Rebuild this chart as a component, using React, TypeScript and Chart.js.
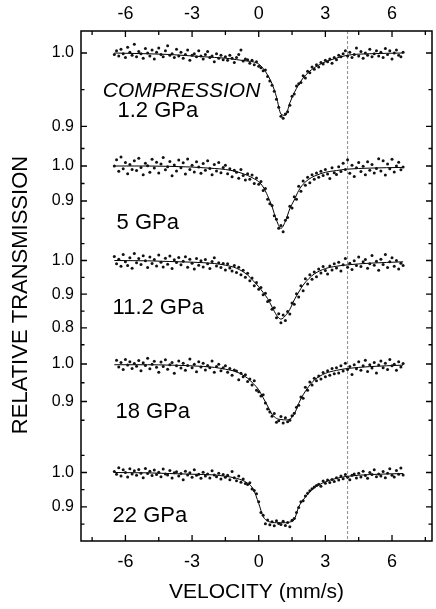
import React, { useEffect, useRef } from 'react';
import { Chart, registerables } from 'chart.js';

Chart.register(...registerables);

// ---------- data ----------
const VELOCITY = [
  -6.5, -6.4, -6.3, -6.2, -6.1, -6.0, -5.9, -5.8, -5.7, -5.6,
  -5.5, -5.4, -5.3, -5.2, -5.1, -5.0, -4.9, -4.8, -4.7, -4.6,
  -4.5, -4.4, -4.3, -4.2, -4.1, -4.0, -3.9, -3.8, -3.7, -3.6,
  -3.5, -3.4, -3.3, -3.2, -3.1, -3.0, -2.9, -2.8, -2.7, -2.6,
  -2.5, -2.4, -2.3, -2.2, -2.1, -2.0, -1.9, -1.8, -1.7, -1.6,
  -1.5, -1.4, -1.3, -1.2, -1.1, -1.0, -0.9, -0.8, -0.7, -0.6,
  -0.5, -0.4, -0.3, -0.2, -0.1, 0.0, 0.1, 0.2, 0.3, 0.4,
  0.5, 0.6, 0.7, 0.8, 0.9, 1.0, 1.1, 1.2, 1.3, 1.4,
  1.5, 1.6, 1.7, 1.8, 1.9, 2.0, 2.1, 2.2, 2.3, 2.4,
  2.5, 2.6, 2.7, 2.8, 2.9, 3.0, 3.1, 3.2, 3.3, 3.4,
  3.5, 3.6, 3.7, 3.8, 3.9, 4.0, 4.1, 4.2, 4.3, 4.4,
  4.5, 4.6, 4.7, 4.8, 4.9, 5.0, 5.1, 5.2, 5.3, 5.4,
  5.5, 5.6, 5.7, 5.8, 5.9, 6.0, 6.1, 6.2, 6.3, 6.4, 6.5,
];

const T_1_2_GPA = [
  0.998, 1.003, 0.996, 1.005, 0.999, 0.994, 1.008, 1.001, 0.997, 1.012,
  0.995, 1.002, 0.999, 0.993, 1.006, 1.000, 0.996, 1.004, 0.992, 1.001,
  1.007, 0.998, 0.995, 1.003, 1.010, 0.997, 0.999, 0.994, 1.005, 0.996,
  1.001, 0.993, 0.998, 1.004, 0.990, 0.997, 0.999, 0.995, 1.003, 0.996,
  0.992, 0.998, 1.002, 0.994, 0.996, 0.988, 0.999, 0.993, 0.997, 0.991,
  0.995, 0.990, 0.997, 0.993, 0.987, 0.994, 0.998, 1.004, 0.989, 0.992,
  0.991, 0.986, 0.990, 0.984, 0.988, 0.982, 0.980, 0.976, 0.977, 0.968,
  0.962, 0.956, 0.948, 0.937, 0.926, 0.914, 0.911, 0.917, 0.920, 0.929,
  0.941, 0.944, 0.955, 0.958, 0.960, 0.969, 0.966, 0.975, 0.973, 0.981,
  0.978, 0.984, 0.981, 0.987, 0.985, 0.990, 0.988, 0.992, 0.986, 0.994,
  0.991, 0.997, 0.995, 0.999, 1.003, 0.996, 1.001, 0.994, 0.998, 1.007,
  0.996, 1.002, 0.993, 1.000, 0.997, 1.005, 0.995, 0.999, 1.003, 0.996,
  1.001, 0.994, 1.006, 0.998, 1.003, 0.992, 1.000, 1.004, 0.997, 0.995, 1.001,
];

const T_5_GPA = [
  1.000, 1.018, 0.985, 1.026, 0.992, 1.010, 0.978, 1.004, 0.990, 1.015,
  0.987, 1.022, 0.996, 0.975, 1.008, 1.001, 0.982, 1.019, 0.994, 1.011,
  0.980, 1.006, 1.024, 0.989, 0.998, 1.013, 0.972, 1.003, 0.986, 1.017,
  0.995, 1.009, 0.977, 1.020, 0.990, 1.002, 0.983, 1.012, 0.997, 0.979,
  1.007, 0.988, 1.015, 0.993, 0.975, 1.004, 0.986, 1.010, 0.981, 0.996,
  1.002, 0.978, 0.992, 0.969, 0.988, 0.982, 0.965, 0.990, 0.973, 0.960,
  0.978, 0.962, 0.974, 0.950, 0.966, 0.948, 0.956, 0.930, 0.936, 0.905,
  0.892, 0.887, 0.858, 0.848, 0.822, 0.830, 0.812, 0.845, 0.853, 0.885,
  0.880, 0.912, 0.905, 0.942, 0.928, 0.957, 0.945, 0.968, 0.952, 0.975,
  0.962, 0.980, 0.968, 0.985, 0.973, 0.990, 0.977, 0.964, 0.995, 0.981,
  0.976, 0.998, 0.984, 1.008, 0.990, 1.018, 0.979, 1.002, 0.970, 0.995,
  1.010, 0.984, 0.999, 0.975, 1.012, 0.988, 1.004, 0.980, 0.993, 1.021,
  0.986, 1.015, 0.974, 1.006, 0.992, 1.019, 0.983, 1.000, 1.011, 0.989, 0.997,
];

const T_11_2_GPA = [
  1.012, 0.990, 1.004, 0.983, 1.018, 0.996, 0.985, 1.008, 0.977, 1.021,
  0.993, 1.006, 0.988, 1.014, 0.999, 0.979, 1.010, 0.991, 1.003, 0.984,
  1.016, 0.995, 0.981, 1.007, 0.989, 1.013, 0.976, 1.002, 0.994, 1.009,
  0.987, 0.998, 1.011, 0.980, 1.004, 0.992, 0.975, 1.006, 0.986, 0.999,
  0.981, 1.003, 0.990, 0.976, 0.997, 1.008, 0.984, 0.993, 0.979, 0.991,
  0.972, 0.990, 0.978, 0.969, 0.985, 0.964, 0.980, 0.958, 0.971, 0.950,
  0.962, 0.940, 0.948, 0.925, 0.935, 0.915, 0.920, 0.898, 0.903, 0.878,
  0.882, 0.855, 0.860, 0.830, 0.842, 0.815, 0.838, 0.822, 0.849, 0.841,
  0.874, 0.870, 0.901, 0.892, 0.925, 0.910, 0.946, 0.930, 0.958, 0.944,
  0.966, 0.952, 0.975, 0.963, 0.982, 0.970, 0.960, 0.984, 0.972, 0.990,
  0.978, 0.995, 0.969, 0.987, 1.006, 0.980, 0.992, 0.973, 0.999, 0.985,
  1.010, 0.982, 0.996, 1.003, 0.977, 0.990, 1.015, 0.986, 0.998, 0.971,
  1.004, 0.988, 1.018, 0.979, 0.996, 1.008, 0.983, 1.000, 0.975, 0.992, 0.985,
];

const T_18_GPA = [
  1.045, 1.010, 0.992, 1.004, 0.985, 1.012, 0.997, 1.006, 0.988, 1.001,
  0.994, 1.009, 0.982, 1.003, 0.996, 1.015, 0.987, 0.999, 1.007, 0.991,
  0.978, 1.005, 0.993, 1.011, 0.986, 0.998, 1.004, 0.975, 0.995, 1.008,
  0.989, 1.002, 0.983, 0.996, 1.013, 0.990, 0.999, 0.979, 1.006, 0.992,
  1.002, 0.984, 0.996, 0.990, 1.008, 0.978, 0.993, 0.999, 0.982, 0.990,
  0.995, 0.978, 0.988, 0.970, 0.984, 0.981, 0.958, 0.975, 0.966, 0.971,
  0.953, 0.960, 0.944, 0.955, 0.930, 0.926, 0.915, 0.918, 0.896, 0.880,
  0.872, 0.861, 0.868, 0.845, 0.849, 0.860, 0.843, 0.857, 0.846, 0.850,
  0.862, 0.869, 0.885, 0.890, 0.912, 0.909, 0.938, 0.930, 0.952, 0.944,
  0.962, 0.955, 0.968, 0.960, 0.977, 0.966, 0.982, 0.970, 0.988, 0.974,
  0.990, 0.976, 0.995, 0.981, 1.002, 0.985, 0.993, 0.972, 0.998, 0.987,
  1.006, 0.983, 0.995, 1.010, 0.980, 0.998, 0.989, 1.004, 0.976, 0.997,
  1.008, 0.990, 1.002, 0.985, 1.012, 0.995, 0.999, 0.983, 1.006, 0.992, 1.001,
];

const T_22_GPA = [
  1.003, 0.995, 1.014, 0.990, 1.008, 1.000, 0.987, 1.011, 0.996, 1.005,
  0.992, 1.009, 0.998, 0.985, 1.012, 0.997, 1.004, 0.991, 1.007, 0.994,
  1.001, 0.988, 1.010, 0.996, 0.993, 1.006, 0.984, 0.999, 1.002, 0.990,
  0.997, 0.979, 1.004, 0.993, 0.999, 0.986, 1.008, 0.992, 0.995, 0.983,
  1.001, 0.990, 0.996, 0.984, 1.005, 0.993, 0.988, 0.998, 0.981, 0.994,
  0.986, 0.992, 0.979, 1.003, 0.985, 0.976, 0.990, 0.972, 0.981, 0.968,
  0.965, 0.970, 0.952, 0.948, 0.938, 0.915, 0.884, 0.876, 0.851, 0.862,
  0.848, 0.857, 0.845, 0.860, 0.852, 0.849, 0.858, 0.846, 0.855, 0.842,
  0.861, 0.866, 0.884, 0.898, 0.915, 0.918, 0.932, 0.940, 0.947, 0.953,
  0.958, 0.962, 0.966, 0.960, 0.975, 0.969, 0.978, 0.971, 0.980, 0.974,
  0.985, 0.978, 0.990, 0.982, 0.994, 0.986, 0.979, 0.992, 0.996, 0.984,
  0.998, 0.987, 1.004, 0.991, 0.983, 1.000, 0.994, 1.008, 0.988, 0.996,
  0.990, 1.003, 0.985, 0.998, 1.011, 0.992, 0.987, 1.006, 0.995, 1.013, 0.993,
];

// fitted curves
const FIT_VELOCITY = [-6.5, -5, -4, -3, -2, -1.5, -1, -0.5, -0.25, 0, 0.2, 0.4, 0.6, 0.8, 1.0, 1.2, 1.4, 1.6, 1.8, 2.0, 2.25, 2.5, 3, 3.5, 4, 5, 6.5];
const FIT_1_2_GPA = [1.000, 0.999, 0.998, 0.996, 0.994, 0.993, 0.991, 0.989, 0.988, 0.985, 0.979, 0.970, 0.958, 0.940, 0.917, 0.915, 0.932, 0.946, 0.957, 0.966, 0.974, 0.980, 0.988, 0.993, 0.997, 0.999, 1.000];
const FIT_5_GPA = [1.000, 1.000, 0.999, 0.997, 0.993, 0.990, 0.984, 0.973, 0.965, 0.955, 0.940, 0.915, 0.884, 0.845, 0.822, 0.842, 0.878, 0.903, 0.930, 0.948, 0.962, 0.971, 0.982, 0.987, 0.991, 0.994, 0.996];
const FIT_11_2_GPA = [1.000, 0.999, 0.997, 0.995, 0.991, 0.986, 0.977, 0.957, 0.940, 0.922, 0.905, 0.887, 0.862, 0.838, 0.826, 0.836, 0.855, 0.883, 0.906, 0.927, 0.946, 0.960, 0.976, 0.983, 0.987, 0.992, 0.996];
const FIT_18_GPA = [0.998, 0.998, 0.997, 0.995, 0.991, 0.986, 0.979, 0.962, 0.948, 0.931, 0.910, 0.888, 0.866, 0.855, 0.852, 0.851, 0.853, 0.866, 0.895, 0.918, 0.940, 0.957, 0.975, 0.983, 0.988, 0.993, 0.997];
const FIT_22_GPA = [1.000, 0.999, 0.997, 0.995, 0.993, 0.989, 0.983, 0.969, 0.952, 0.910, 0.872, 0.859, 0.855, 0.854, 0.854, 0.854, 0.856, 0.863, 0.900, 0.920, 0.940, 0.955, 0.973, 0.983, 0.989, 0.994, 0.997];

const PRESSURE_LABELS = ['1.2 GPa', '5 GPa', '11.2 GPa', '18 GPa', '22 GPa'];
const MODE_LABEL = 'COMPRESSION';
const X_TITLE = 'VELOCITY (mm/s)';
const Y_TITLE = 'RELATIVE TRANSMISSION';

const X_TICKS = [-7.5, -6, -4.5, -3, -1.5, 0, 1.5, 3, 4.5, 6, 7.5];
const X_TICK_LABELS = ['', '-6', '', '-3', '', '0', '', '3', '', '6', ''];

const Y_TICKS_1 = [0.9, 0.95, 1.0];
const Y_LABELS_1 = ['0.9', '', '1.0'];
const Y_TICKS_2 = [0.85, 0.9, 0.95, 1.0, 1.05];
const Y_LABELS_2 = ['', '0.9', '', '1.0', ''];
const Y_TICKS_3 = [0.75, 0.8, 0.85, 0.9, 0.95, 1.0, 1.05];
const Y_LABELS_3 = ['', '0.8', '', '0.9', '', '1.0', ''];
const Y_TICKS_4 = [0.85, 0.9, 0.95, 1.0];
const Y_LABELS_4 = ['', '0.9', '', '1.0'];
const Y_TICKS_5 = [0.85, 0.9, 0.95, 1.0, 1.05];
const Y_LABELS_5 = ['', '0.9', '', '1.0', ''];

const REFERENCE_VELOCITY = 4;

// ---------- layout / style ----------
const FONT = '"Liberation Sans", Arial, Helvetica, sans-serif';
const PANEL_MIN = [0.8815, 0.7886, 0.7344, 0.8027, 0.8009];
const PANEL_MAX = [1.0300, 1.0743, 1.0608, 1.0373, 1.1003];
const PANEL_HEIGHT = [109, 100, 110, 88, 103];
const LABEL_POS_V = [-6.36, -6.40, -6.58, -6.45, -6.58];
const LABEL_POS_T = [0.9124, 0.820, 0.8412, 0.856, 0.856];
const MODE_POS = [-7.02, 0.9396];

const SERIES = [T_1_2_GPA, T_5_GPA, T_11_2_GPA, T_18_GPA, T_22_GPA];
const FITS = [FIT_1_2_GPA, FIT_5_GPA, FIT_11_2_GPA, FIT_18_GPA, FIT_22_GPA];
const Y_TICKS = [Y_TICKS_1, Y_TICKS_2, Y_TICKS_3, Y_TICKS_4, Y_TICKS_5];
const Y_LABELS = [Y_LABELS_1, Y_LABELS_2, Y_LABELS_3, Y_LABELS_4, Y_LABELS_5];

const framePlugin = {
  id: 'mossbauerFrame',
  beforeDatasetsDraw(chart: any) {
    const { ctx, chartArea: a } = chart;
    const x = chart.scales.x.getPixelForValue(REFERENCE_VELOCITY);
    ctx.save();
    ctx.strokeStyle = '#8a8a8a';
    ctx.lineWidth = 1;
    ctx.setLineDash([3, 2]);
    ctx.beginPath();
    ctx.moveTo(x, a.top);
    ctx.lineTo(x, a.bottom);
    ctx.stroke();
    ctx.restore();
  },
  afterDraw(chart: any) {
    const { ctx, chartArea: a } = chart;
    ctx.save();
    ctx.strokeStyle = '#000';
    ctx.lineWidth = 1.5;
    ctx.strokeRect(a.left, a.top, a.right - a.left, a.bottom - a.top);
    ctx.lineWidth = 1.3;
    ctx.beginPath();
    for (let i = 0; i < 5; i++) {
      const s = chart.scales['y' + (i + 1)];
      Y_TICKS[i].forEach((v, k) => {
        const y = s.getPixelForValue(v);
        const len = Y_LABELS[i][k] !== '' ? 6 : 3.5;
        ctx.moveTo(a.left, y);
        ctx.lineTo(a.left + len, y);
        ctx.moveTo(a.right, y);
        ctx.lineTo(a.right - len, y);
      });
    }
    const sx = chart.scales.x;
    X_TICKS.forEach((v, k) => {
      const x = sx.getPixelForValue(v);
      const len = X_TICK_LABELS[k] !== '' ? 6 : 4;
      ctx.moveTo(x, a.bottom);
      ctx.lineTo(x, a.bottom - len);
      ctx.moveTo(x, a.top);
      ctx.lineTo(x, a.top + len);
    });
    ctx.stroke();

    ctx.fillStyle = '#000';
    ctx.textAlign = 'left';
    ctx.textBaseline = 'alphabetic';
    ctx.font = `italic 21px ${FONT}`;
    ctx.fillText(MODE_LABEL, sx.getPixelForValue(MODE_POS[0]), chart.scales.y1.getPixelForValue(MODE_POS[1]));
    ctx.font = `22px ${FONT}`;
    PRESSURE_LABELS.forEach((t, i) => {
      const s = chart.scales['y' + (i + 1)];
      ctx.fillText(t, sx.getPixelForValue(LABEL_POS_V[i]), s.getPixelForValue(LABEL_POS_T[i]));
    });
    ctx.restore();
  },
};

export default function App() {
  const ref = useRef<HTMLCanvasElement | null>(null);

  useEffect(() => {
    if (!ref.current) return;
    const datasets: any[] = [];
    SERIES.forEach((vals, i) => {
      datasets.push({
        type: 'scatter',
        label: PRESSURE_LABELS[i],
        data: VELOCITY.map((v, k) => ({ x: v, y: vals[k] })),
        xAxisID: 'x',
        yAxisID: 'y' + (i + 1),
        pointRadius: 1.5,
        pointBackgroundColor: '#111',
        pointBorderWidth: 0,
        showLine: false,
      });
      datasets.push({
        type: 'line',
        label: PRESSURE_LABELS[i] + ' fit',
        data: FIT_VELOCITY.map((v, k) => ({ x: v, y: FITS[i][k] })),
        xAxisID: 'x',
        yAxisID: 'y' + (i + 1),
        borderColor: '#000',
        borderWidth: 1,
        pointRadius: 0,
        fill: false,
        cubicInterpolationMode: 'monotone',
      });
    });

    const xCommon = {
      type: 'linear',
      min: -8,
      max: 7.8,
      afterBuildTicks: (s: any) => {
        s.ticks = X_TICKS.map((v) => ({ value: v }));
      },
      grid: { display: false, drawTicks: false },
      border: { display: false },
    };

    const scales: any = {
      x: {
        ...xCommon,
        position: 'bottom',
        afterFit: (s: any) => {
          s.height = 68;
        },
        ticks: {
          autoSkip: false,
          maxRotation: 0,
          padding: 10,
          color: '#000',
          font: { family: FONT, size: 18 },
          callback: (_v: any, k: number) => X_TICK_LABELS[k],
        },
        title: {
          display: true,
          text: X_TITLE,
          color: '#000',
          font: { family: FONT, size: 21 },
          padding: { top: 4, bottom: 4 },
        },
      },
      x2: {
        ...xCommon,
        position: 'top',
        afterFit: (s: any) => {
          s.height = 31;
        },
        ticks: {
          autoSkip: false,
          maxRotation: 0,
          padding: 6,
          color: '#000',
          font: { family: FONT, size: 18 },
          callback: (_v: any, k: number) => X_TICK_LABELS[k],
        },
      },
    };

    for (let i = 0; i < 5; i++) {
      scales['y' + (i + 1)] = {
        type: 'linear',
        position: 'left',
        stack: 'panels',
        stackWeight: PANEL_HEIGHT[i],
        weight: 5 - i,
        min: PANEL_MIN[i],
        max: PANEL_MAX[i],
        afterBuildTicks: (s: any) => {
          s.ticks = Y_TICKS[i].map((v) => ({ value: v }));
        },
        afterFit: (s: any) => {
          s.width = 81;
        },
        grid: { display: false, drawTicks: false },
        border: { display: false },
        ticks: {
          autoSkip: false,
          padding: 7,
          color: '#000',
          font: { family: FONT, size: 16 },
          callback: (_v: any, k: number) => Y_LABELS[i][k],
        },
        title:
          i === 2
            ? {
                display: true,
                text: Y_TITLE,
                color: '#000',
                font: { family: FONT, size: 22 },
                padding: { top: 8, bottom: 0 },
              }
            : { display: false },
      };
    }

    const chart = new Chart(ref.current, {
      type: 'scatter',
      data: { datasets },
      options: {
        responsive: true,
        maintainAspectRatio: false,
        animation: false,
        events: [],
        layout: { padding: { left: 0, right: 1, top: 0, bottom: 0 } },
        plugins: { legend: { display: false }, tooltip: { enabled: false } },
        scales,
      } as any,
      plugins: [framePlugin],
    } as any);

    return () => chart.destroy();
  }, []);

  return (
    <div style={{ position: 'absolute', left: 0, top: 0, width: 436, height: 609, background: '#fff' }}>
      <canvas ref={ref} />
    </div>
  );
}
